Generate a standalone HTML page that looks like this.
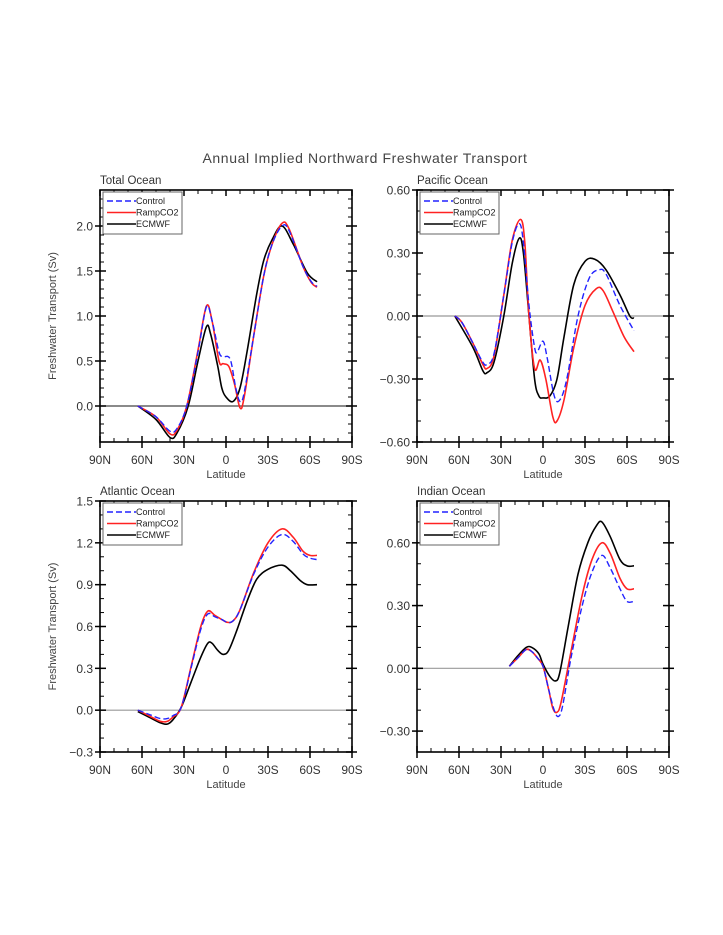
<!DOCTYPE html>
<html><head><meta charset="utf-8"><style>
html,body{margin:0;padding:0;background:#fff;}
svg{display:block;font-family:"Liberation Sans",sans-serif;}
</style></head><body>
<svg id="s" width="723" height="935" xmlns="http://www.w3.org/2000/svg">
<text x="365" y="163" font-size="14" fill="#444" text-anchor="middle" letter-spacing="0.6">Annual Implied Northward Freshwater Transport</text>
</svg>
<script>
var S=document.getElementById('s'),NS='http://www.w3.org/2000/svg';
function el(t,a,txt){var e=document.createElementNS(NS,t);for(var k in a)e.setAttribute(k,a[k]);if(txt!==undefined)e.textContent=txt;S.appendChild(e);return e;}
function panel(P){
 var L=P.x,T=P.y,W=252,H=P.h;
 function X(lat){return L+(90-lat)/180*W;}
 function Y(v){return T+(P.max-v)/(P.max-P.min)*H;}
 // zero line
 el('line',{x1:L,x2:L+W,y1:Y(0),y2:Y(0),stroke:P.zc,'stroke-width':1.2});
 // ticks
 for(var lat=90;lat>=-90;lat-=10){var x=X(lat),maj=(lat%30==0);
  if(maj){el('line',{x1:x,x2:x,y1:T+H-6,y2:T+H+6,stroke:'#000','stroke-width':1.5});el('line',{x1:x,x2:x,y1:T,y2:T+6,stroke:'#000','stroke-width':1.5});
   var lb=lat==0?'0':(Math.abs(lat)+(lat>0?'N':'S'));el('text',{x:x,y:T+H+22,'font-size':12,fill:'#333','text-anchor':'middle'},lb);}
  else{el('line',{x1:x,x2:x,y1:T+H-4,y2:T+H,stroke:'#000'});el('line',{x1:x,x2:x,y1:T,y2:T+4,stroke:'#000'});}}
 var n=Math.round((P.max-P.min)/P.minor);
 for(var i=0;i<=n;i++){var v=P.min+i*P.minor,y=Y(v),k=Math.round((v)/P.major*1000)/1000,maj=Math.abs(k-Math.round(k))<1e-6;
  if(maj){el('line',{x1:L-5,x2:L+6,y1:y,y2:y,stroke:'#000','stroke-width':1.5});el('line',{x1:L+W-6,x2:L+W+5,y1:y,y2:y,stroke:'#000','stroke-width':1.5});
   if(i>0||P.labBot){var s=Math.abs(v).toFixed(P.dec);if(v<-1e-9)s='\u2212'+s;el('text',{x:L-7,y:y+4.5,'font-size':12,fill:'#333','text-anchor':'end'},s);}}
  else{el('line',{x1:L,x2:L+4,y1:y,y2:y,stroke:'#000'});el('line',{x1:L+W-4,x2:L+W,y1:y,y2:y,stroke:'#000'});}}
 el('rect',{x:L,y:T,width:W,height:H,fill:'none',stroke:'#000','stroke-width':1.6});
 el('text',{x:L,y:T-6,'font-size':11.5,fill:'#333'},P.title);
 el('text',{x:L+W/2,y:T+H+36,'font-size':11,fill:'#444','text-anchor':'middle'},'Latitude');
 if(P.ylab)el('text',{x:0,y:0,'font-size':11,fill:'#444','text-anchor':'middle',transform:'translate('+(L-44)+','+(T+H/2)+') rotate(-90)'},'Freshwater Transport (Sv)');
 function path(pts){var p=pts.map(function(q){return [X(q[0]),Y(q[1])];});var d='M'+p[0][0]+' '+p[0][1];
  for(var i=0;i<p.length-1;i++){var p0=p[Math.max(0,i-1)],p1=p[i],p2=p[i+1],p3=p[Math.min(p.length-1,i+2)];
   d+=' C'+(p1[0]+(p2[0]-p0[0])/6)+' '+(p1[1]+(p2[1]-p0[1])/6)+' '+(p2[0]-(p3[0]-p1[0])/6)+' '+(p2[1]-(p3[1]-p1[1])/6)+' '+p2[0]+' '+p2[1];}return d;}
 el('path',{d:path(P.e),fill:'none',stroke:'#000','stroke-width':1.6});
 el('path',{d:path(P.r),fill:'none',stroke:'#f22','stroke-width':1.6});
 el('path',{d:path(P.c),fill:'none',stroke:'#22f','stroke-width':1.4,'stroke-dasharray':'6,3'});
 // legend
 var lx=L+3,ly=T+2;
 el('rect',{x:lx,y:ly,width:79,height:42,fill:'#fff',stroke:'#666','stroke-width':1});
 var items=[['Control','#22f','6,3'],['RampCO2','#f22',''],['ECMWF','#000','']];
 items.forEach(function(it,j){var yy=ly+9+j*11.5;var a={x1:lx+4,x2:lx+33,y1:yy,y2:yy,stroke:it[1],'stroke-width':1.5};if(it[2])a['stroke-dasharray']=it[2];el('line',a);
  el('text',{x:lx+33,y:yy+3,'font-size':9,fill:'#222'},it[0]);});
}
panel({x:100,y:190,h:252,min:-0.4,max:2.4,major:0.5,minor:0.1,dec:1,title:'Total Ocean',ylab:1,zc:'#444',
 c:[[63,0],[50,-0.12],[40,-0.28],[35,-0.25],[28,0],[20,0.6],[14,1.1],[10,0.95],[5,0.6],[2,0.55],[-3,0.52],[-7,0.2],[-10,0.05],[-13,0.15],[-20,0.8],[-27,1.45],[-33,1.8],[-40,2.0],[-45,1.95],[-55,1.55],[-61,1.38],[-65,1.33]],
 r:[[63,0],[50,-0.12],[40,-0.31],[35,-0.27],[28,0],[20,0.62],[14,1.11],[10,0.95],[5,0.5],[2,0.47],[-2,0.44],[-6,0.25],[-10,-0.02],[-13,0.1],[-20,0.8],[-27,1.45],[-33,1.8],[-40,2.03],[-45,1.97],[-55,1.55],[-61,1.37],[-65,1.32]],
 e:[[63,0],[50,-0.15],[40,-0.35],[35,-0.3],[27,0],[20,0.5],[14,0.88],[11,0.8],[6,0.45],[3,0.2],[0,0.1],[-5,0.05],[-10,0.2],[-15,0.6],[-22,1.25],[-27,1.62],[-33,1.85],[-40,2.0],[-48,1.8],[-58,1.48],[-65,1.38]]});
panel({x:417,y:190,h:252,min:-0.6,max:0.6,major:0.3,minor:0.1,dec:2,title:'Pacific Ocean',labBot:1,zc:'#999',
 c:[[63,0],[58,-0.03],[50,-0.13],[43,-0.22],[40,-0.23],[35,-0.18],[28,0.1],[22,0.35],[17,0.44],[14,0.35],[10,0.05],[6,-0.15],[4,-0.17],[0,-0.12],[-3,-0.2],[-8,-0.38],[-12,-0.4],[-17,-0.3],[-25,0.0],[-33,0.18],[-40,0.22],[-45,0.2],[-55,0.05],[-65,-0.07]],
 r:[[63,0],[58,-0.03],[50,-0.13],[43,-0.23],[40,-0.25],[35,-0.19],[28,0.1],[22,0.36],[16,0.46],[13,0.35],[10,0.0],[6,-0.25],[2,-0.21],[-2,-0.3],[-7,-0.48],[-10,-0.5],[-15,-0.4],[-22,-0.15],[-30,0.05],[-38,0.13],[-43,0.12],[-50,0.02],[-58,-0.1],[-65,-0.17]],
 e:[[63,0],[50,-0.15],[43,-0.26],[40,-0.27],[35,-0.22],[28,0.0],[22,0.25],[17,0.37],[14,0.3],[10,0.0],[6,-0.3],[3,-0.38],[0,-0.39],[-5,-0.38],[-10,-0.3],[-15,-0.1],[-22,0.15],[-30,0.26],[-37,0.27],[-45,0.22],[-55,0.1],[-62,0.0],[-65,-0.01]]});
panel({x:100,y:501,h:251,min:-0.3,max:1.5,major:0.3,minor:0.1,dec:1,title:'Atlantic Ocean',ylab:1,labBot:1,zc:'#999',
 c:[[63,0],[55,-0.03],[47,-0.06],[42,-0.06],[38,-0.04],[32,0.02],[25,0.3],[18,0.58],[13,0.69],[8,0.67],[3,0.65],[-1,0.63],[-5,0.64],[-10,0.72],[-20,0.98],[-30,1.17],[-40,1.26],[-48,1.21],[-55,1.12],[-60,1.09],[-65,1.08]],
 r:[[63,0],[55,-0.04],[47,-0.08],[42,-0.08],[38,-0.05],[32,0.02],[25,0.31],[18,0.6],[13,0.71],[8,0.68],[3,0.65],[-1,0.63],[-5,0.64],[-10,0.72],[-20,0.99],[-30,1.2],[-40,1.3],[-48,1.24],[-55,1.14],[-60,1.11],[-65,1.11]],
 e:[[63,-0.01],[55,-0.05],[47,-0.09],[42,-0.1],[38,-0.07],[32,0.02],[25,0.2],[18,0.38],[13,0.48],[10,0.48],[6,0.43],[2,0.4],[-2,0.43],[-8,0.58],[-15,0.78],[-22,0.94],[-30,1.01],[-40,1.04],[-46,1.0],[-53,0.93],[-58,0.9],[-65,0.9]]});
panel({x:417,y:501,h:251,min:-0.4,max:0.8,major:0.3,minor:0.1,dec:2,title:'Indian Ocean',zc:'#999',
 c:[[24,0.01],[18,0.05],[12,0.09],[8,0.08],[4,0.05],[0,0.01],[-4,-0.1],[-8,-0.2],[-11,-0.23],[-14,-0.18],[-20,0.05],[-28,0.3],[-35,0.46],[-42,0.54],[-48,0.48],[-55,0.38],[-60,0.32],[-65,0.32]],
 r:[[24,0.01],[18,0.05],[12,0.09],[8,0.08],[4,0.05],[0,0.01],[-4,-0.1],[-7,-0.19],[-10,-0.21],[-13,-0.16],[-20,0.08],[-28,0.35],[-35,0.52],[-42,0.6],[-48,0.55],[-55,0.43],[-60,0.38],[-65,0.38]],
 e:[[24,0.01],[18,0.06],[12,0.1],[8,0.1],[3,0.07],[0,0.02],[-5,-0.04],[-9,-0.06],[-12,-0.02],[-18,0.2],[-25,0.45],[-32,0.6],[-38,0.68],[-42,0.7],[-48,0.63],[-55,0.52],[-60,0.49],[-65,0.49]]});
</script>
</body></html>
